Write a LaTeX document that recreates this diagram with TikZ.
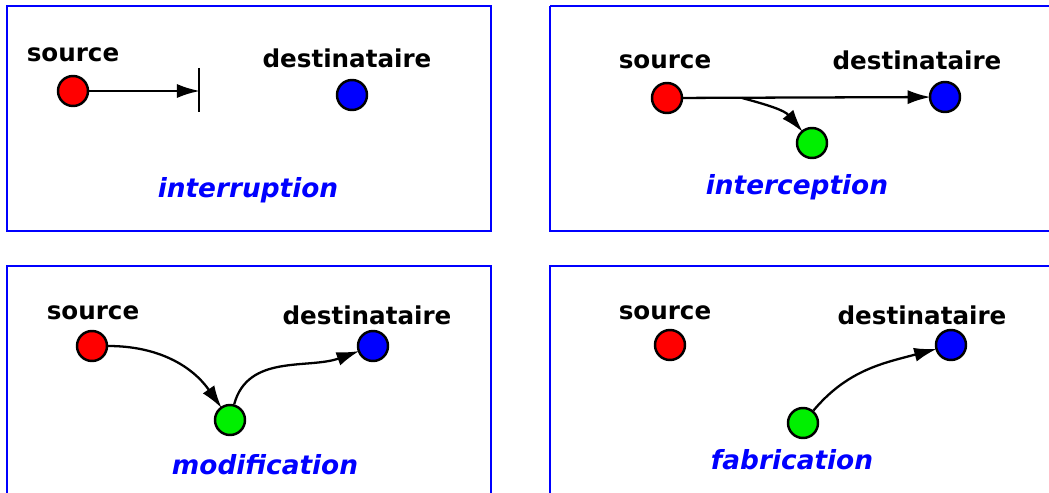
\documentclass[tikz,border=0pt]{standalone}
\usepackage{fontspec}
\usetikzlibrary{arrows.meta}
\newfontfamily\labfont{DejaVu Sans}
\definecolor{pblue}{RGB}{0,0,255}
\definecolor{pred}{RGB}{255,0,0}
\definecolor{pgreen}{RGB}{0,240,0}
\tikzset{
  panel/.style={draw=pblue,line width=1.3pt},
  dot/.style={circle,draw=black,line width=1.4pt,minimum size=30*0.02cm,inner sep=0pt},
  src/.style={dot,fill=pred},
  dst/.style={dot,fill=pblue},
  mid/.style={dot,fill=pgreen},
  lbl/.style={font=\labfont\bfseries\fontsize{14}{16}\selectfont,inner sep=0pt},
  title/.style={font=\labfont\bfseries\itshape\fontsize{15}{17}\selectfont,text=pblue,inner sep=0pt},
  flow/.style={-{Latex[length=13pt,width=8pt]},line width=1.3pt,black,shorten >=-1pt},
}
\begin{document}
\begin{tikzpicture}[x=0.02cm,y=-0.02cm]
\useasboundingbox (0,0) rectangle (1049,493);
% panels
\draw[panel] (7,6) rectangle (491,231);
\draw[panel] (550,6) -- (1060,6) (550,6) -- (550,231) -- (1060,231);
\draw[panel] (7,510) -- (7,266) -- (491,266) -- (491,510);
\draw[panel] (550,510) -- (550,266) -- (1060,266);
\clip (0,0) rectangle (1049,493);

% --- interruption
\node[src] (s1) at (73,91) {};
\node[dst] (d1) at (352,95) {};
\node[lbl] (ls1) at (73,55) {source};
\node[lbl] (ld1) at (347,58) {destinataire};
\coordinate (b1) at (198,91);
\coordinate (b1t) at (199,68);
\coordinate (b1b) at (199,112);
\draw[flow] (s1) -- (b1);
\draw[line width=1.4pt] (b1t) -- (b1b);
\node[title] (t1) at (248,190) {interruption};

% --- interception
\node[src] (s2) at (667,98) {};
\node[dst] (d2) at (945,97) {};
\node[mid] (g2) at (812,143) {};
\node[lbl] (ls2) at (665,62) {source};
\node[lbl] (ld2) at (917,60) {destinataire};
\draw[flow] (s2) -- (d2);
\coordinate (br2) at (742,98);
\draw[flow] (br2) to[out=-15,in=130] (g2);
\node[title] (t2) at (797,187) {interception};

% --- modification
\node[src] (s3) at (92,346) {};
\node[dst] (d3) at (373,346) {};
\node[mid] (g3) at (230,420) {};
\node[lbl] (ls3) at (93,313) {source};
\node[lbl] (ld3) at (367,315) {destinataire};
\draw[flow] (s3) to[out=0,in=125] (g3);
\draw[flow] (g3) to[out=75,in=200] (d3);
\node[title] (t3) at (265,465) {modification};

% --- fabrication
\node[src] (s4) at (670,345) {};
\node[dst] (d4) at (951,345) {};
\node[mid] (g4) at (803,423) {};
\node[lbl] (ls4) at (665,313) {source};
\node[lbl] (ld4) at (922,315) {destinataire};
\draw[flow] (g4) to[out=50,in=195] (d4);
\node[title] (t4) at (792,460) {fabrication};
\end{tikzpicture}
\end{document}
